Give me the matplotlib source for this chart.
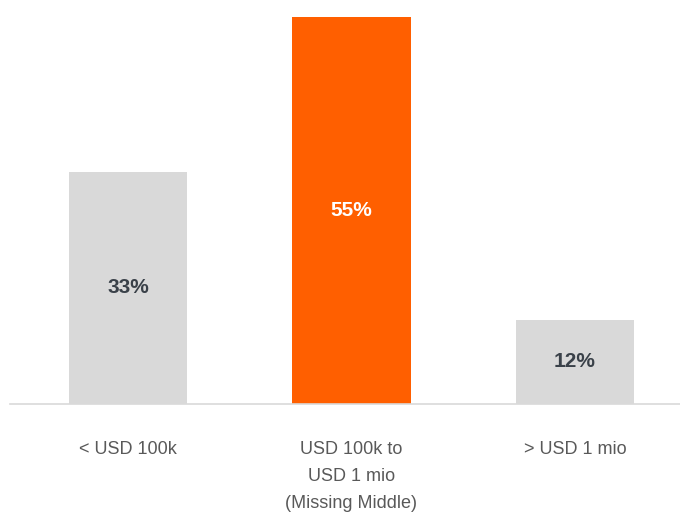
import matplotlib
matplotlib.use("Agg")
import matplotlib.pyplot as plt
from matplotlib.transforms import blended_transform_factory

# Share of firms by financing-gap size
categories = ["< USD 100k", "USD 100k to\nUSD 1 mio\n(Missing Middle)", "> USD 1 mio"]
values = [33, 55, 12]
value_labels = ["33%", "55%", "12%"]

bar_colors = ["#D9D9D9", "#FF5F00", "#D9D9D9"]
label_colors = ["#3A4149", "#FFFFFF", "#3A4149"]

plt.rcParams["font.family"] = ["Liberation Sans", "DejaVu Sans"]

fig = plt.figure(figsize=(6.8, 5.12), dpi=100)
ax = fig.add_axes([10 / 680, 1 - 404 / 512, 670 / 680, 387 / 512])

x = list(range(len(values)))
ax.bar(x, values, width=0.532, color=bar_colors, zorder=2)

ax.set_xlim(-0.528, 2.47)
ax.set_ylim(0, 55)

for xi, v, lab, c in zip(x, values, value_labels, label_colors):
    ax.text(xi, v / 2, lab, ha="center", va="center", fontsize=15,
            fontweight="bold", color=c, zorder=3)

trans = blended_transform_factory(ax.transData, fig.transFigure)
for xi, cat in zip(x, categories):
    ax.text(xi, 1 - 441 / 512, cat, transform=trans, ha="center", va="top",
            fontsize=13, color="#595959", linespacing=1.75)

for side in ["top", "right", "left"]:
    ax.spines[side].set_visible(False)
ax.spines["bottom"].set_color("#D9D9D9")
ax.spines["bottom"].set_linewidth(1.2)
ax.set_xticks([])
ax.set_yticks([])

fig.savefig("out.png", dpi=100)
